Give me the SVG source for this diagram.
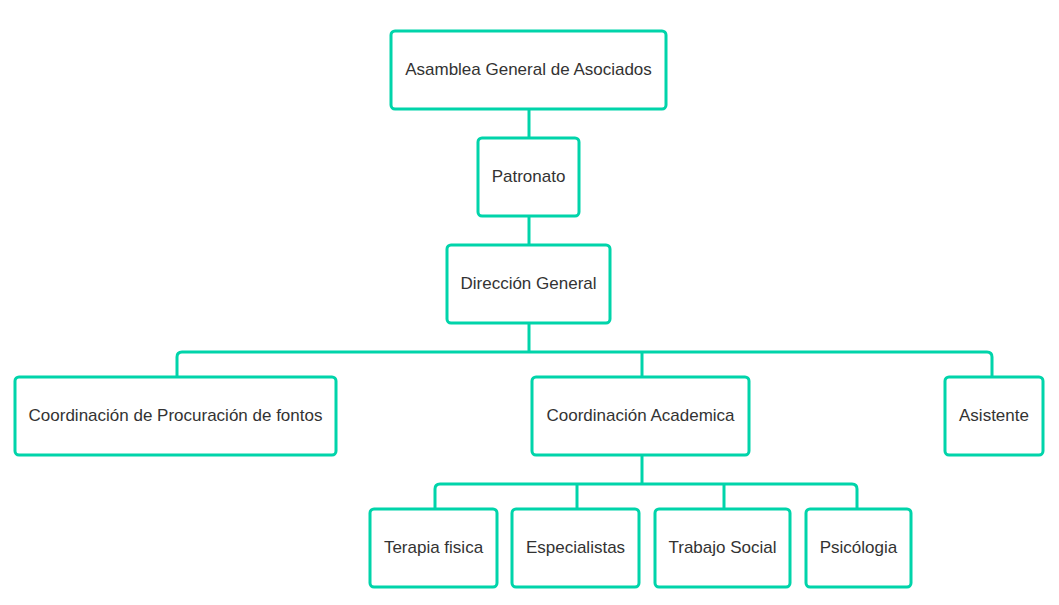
<svg xmlns="http://www.w3.org/2000/svg" width="1059" height="605" viewBox="0 0 1059 605">
<style>
.box{fill:#fff;stroke:#00d4aa;stroke-width:3}
.lbl{font-family:"Liberation Sans",Arial,sans-serif;font-size:17px;fill:#333;text-anchor:middle;dominant-baseline:central}
.con{fill:none;stroke:#00d4aa;stroke-width:3}
</style>
<rect width="1059" height="605" fill="#fff"/>
<g id="connectors">
<path class="con" d="M529 109V138"/>
<path class="con" d="M529 216V245"/>
<path class="con" d="M529 323V352"/>
<path class="con" d="M177 377V357Q177 352 182 352H987Q992 352 992 357V377"/>
<path class="con" d="M642 352V377"/>
<path class="con" d="M642 455V484"/>
<path class="con" d="M435 509V489Q435 484 440 484H852Q857 484 857 489V509"/>
<path class="con" d="M577 484V509"/>
<path class="con" d="M724 484V509"/>
</g>
<g id="asamblea"><rect class="box" x="391" y="31" width="275" height="78" rx="4"/><text class="lbl" x="528.5" y="69">Asamblea General de Asociados</text></g>
<g id="patronato"><rect class="box" x="478" y="138" width="101" height="78" rx="4"/><text class="lbl" x="528.5" y="176">Patronato</text></g>
<g id="direccion"><rect class="box" x="447" y="245" width="163" height="78" rx="4"/><text class="lbl" x="528.5" y="283">Dirección General</text></g>
<g id="procuracion"><rect class="box" x="15" y="377" width="321" height="78" rx="4"/><text class="lbl" x="175.5" y="415">Coordinación de Procuración de fontos</text></g>
<g id="academica"><rect class="box" x="532" y="377" width="217" height="78" rx="4"/><text class="lbl" x="640.5" y="415">Coordinación Academica</text></g>
<g id="asistente"><rect class="box" x="945" y="377" width="98" height="78" rx="4"/><text class="lbl" x="994" y="415">Asistente</text></g>
<g id="terapia"><rect class="box" x="370" y="509" width="127" height="78" rx="4"/><text class="lbl" x="433.5" y="547">Terapia fisica</text></g>
<g id="especialistas"><rect class="box" x="512" y="509" width="127" height="78" rx="4"/><text class="lbl" x="575.5" y="547">Especialistas</text></g>
<g id="trabajo"><rect class="box" x="655" y="509" width="135" height="78" rx="4"/><text class="lbl" x="722.5" y="547">Trabajo Social</text></g>
<g id="psicologia"><rect class="box" x="806" y="509" width="105" height="78" rx="4"/><text class="lbl" x="858.5" y="547">Psicólogia</text></g>
</svg>
